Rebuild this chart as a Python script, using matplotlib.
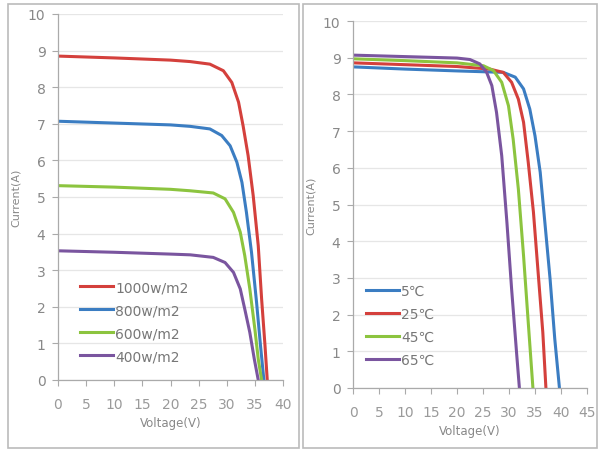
import matplotlib
matplotlib.use("Agg")
import matplotlib.pyplot as plt
from matplotlib.patches import Rectangle

# irradiance curves (voltage V, current A)
irr_labels = ["1000w/m2", "800w/m2", "600w/m2", "400w/m2"]
irr_v = [
    [0, 10, 20, 23.5, 27.0, 29.4, 30.9, 32.1, 32.9, 33.8, 34.7, 35.6, 36.2, 36.8, 37.2],
    [0, 10, 20, 23.5, 27.0, 29.1, 30.6, 31.8, 32.7, 33.5, 34.4, 35.3, 36.0, 36.6],
    [0, 10, 20, 23.5, 27.6, 29.7, 31.2, 32.4, 33.2, 34.1, 35.0, 35.6, 36.2],
    [0, 10, 20, 23.5, 27.6, 29.7, 31.2, 32.4, 33.2, 34.1, 34.9, 35.6],
]
irr_i = [
    [8.85, 8.80, 8.74, 8.70, 8.63, 8.45, 8.13, 7.59, 6.95, 6.13, 5.04, 3.67, 2.21, 0.94, 0],
    [7.07, 7.02, 6.97, 6.93, 6.86, 6.68, 6.40, 5.95, 5.40, 4.58, 3.49, 2.12, 0.94, 0],
    [5.31, 5.27, 5.21, 5.17, 5.11, 4.95, 4.58, 4.04, 3.40, 2.49, 1.39, 0.57, 0],
    [3.53, 3.49, 3.44, 3.42, 3.35, 3.21, 2.94, 2.49, 1.94, 1.30, 0.57, 0],
]

# temperature curves
temp_labels = ["5℃", "25℃", "45℃", "65℃"]
temp_v = [
    [0, 10, 20, 28.9, 31.2, 32.8, 34.0, 35.0, 36.0, 36.9, 37.9, 38.8, 39.7],
    [0, 10, 20, 26.3, 28.9, 30.5, 31.8, 32.8, 33.7, 34.7, 35.6, 36.5, 37.1],
    [0, 10, 20, 25.1, 27.0, 28.6, 29.9, 30.8, 31.8, 32.8, 33.7, 34.6],
    [0, 10, 20, 22.5, 24.4, 25.7, 26.7, 27.6, 28.6, 29.6, 30.5, 31.5, 32.0],
]
temp_i = [
    [8.75, 8.69, 8.64, 8.60, 8.47, 8.15, 7.60, 6.87, 5.88, 4.51, 2.97, 1.34, 0],
    [8.86, 8.81, 8.76, 8.69, 8.60, 8.33, 7.87, 7.24, 6.15, 4.79, 3.15, 1.52, 0],
    [8.97, 8.92, 8.86, 8.78, 8.65, 8.33, 7.69, 6.78, 5.42, 3.60, 1.79, 0],
    [9.07, 9.03, 8.99, 8.95, 8.83, 8.60, 8.24, 7.51, 6.33, 4.51, 2.70, 0.88, 0],
]

irr_colors = ["#d4403c", "#3b7dc2", "#8cc43f", "#7a559f"]
temp_colors = ["#3b7dc2", "#d4403c", "#8cc43f", "#7a559f"]
gray = "#888888"

W, H = 598, 452
fig = plt.figure(figsize=(W / 100, H / 100), dpi=100)


def ax_at(x0, x1, y0, y1):
    # pixel box -> figure fraction
    return fig.add_axes([x0 / W, 1 - y1 / H, (x1 - x0) / W, (y1 - y0) / H])


def style(ax, xmax):
    ax.set_xlim(0, xmax)
    ax.set_ylim(0, 10)
    ax.set_xticks(range(0, xmax + 1, 5))
    ax.set_yticks(range(0, 11))
    ax.grid(axis="y", color="#e6e6e6", lw=0.9)
    ax.set_axisbelow(True)
    for s in ["top", "right"]:
        ax.spines[s].set_visible(False)
    for s in ["left", "bottom"]:
        ax.spines[s].set_color("#aaaaaa")
        ax.spines[s].set_linewidth(0.9)
    ax.tick_params(axis="x", colors="#aaaaaa", labelcolor="#9a9a9a", length=4,
                   labelsize=10, pad=8)
    ax.tick_params(axis="y", colors="#aaaaaa", labelcolor=gray, length=4,
                   labelsize=10, pad=5)
    ax.set_xlabel("Voltage(V)", color=gray, fontsize=8.5, labelpad=4)
    ax.set_ylabel("Current(A)", color=gray, fontsize=8, labelpad=5)


def legend_at(ax, x, y, **kw):
    return ax.legend(loc="upper left", bbox_to_anchor=(x / W, 1 - y / H),
                     bbox_transform=fig.transFigure, frameon=False,
                     handlelength=2.4, handletextpad=0.15, labelspacing=0.65,
                     labelcolor="#777777", borderpad=0, borderaxespad=0, **kw)


fig.add_artist(Rectangle((8 / W, 1 - 449 / H), 291 / W, 444 / H, transform=fig.transFigure,
                         fill=False, ec="#bbbbbb", lw=1.2))
fig.add_artist(Rectangle((303 / W, 1 - 449 / H), 294 / W, 444 / H, transform=fig.transFigure,
                         fill=False, ec="#bbbbbb", lw=1.2))

ax1 = ax_at(58, 283, 15, 381)
for v, i, c, lab in zip(irr_v, irr_i, irr_colors, irr_labels):
    ax1.plot(v, i, color=c, lw=2.2, label=lab, solid_joinstyle="round")
style(ax1, 40)
legend_at(ax1, 80, 281, fontsize=10)

ax2 = ax_at(353, 587, 22, 389)
for v, i, c, lab in zip(temp_v, temp_i, temp_colors, temp_labels):
    ax2.plot(v, i, color=c, lw=2.2, label=lab, solid_joinstyle="round")
style(ax2, 45)
legend_at(ax2, 366, 285, prop={"family": ["DejaVu Sans", "Noto Sans CJK SC"], "size": 10})

fig.savefig("out.png", dpi=100)
